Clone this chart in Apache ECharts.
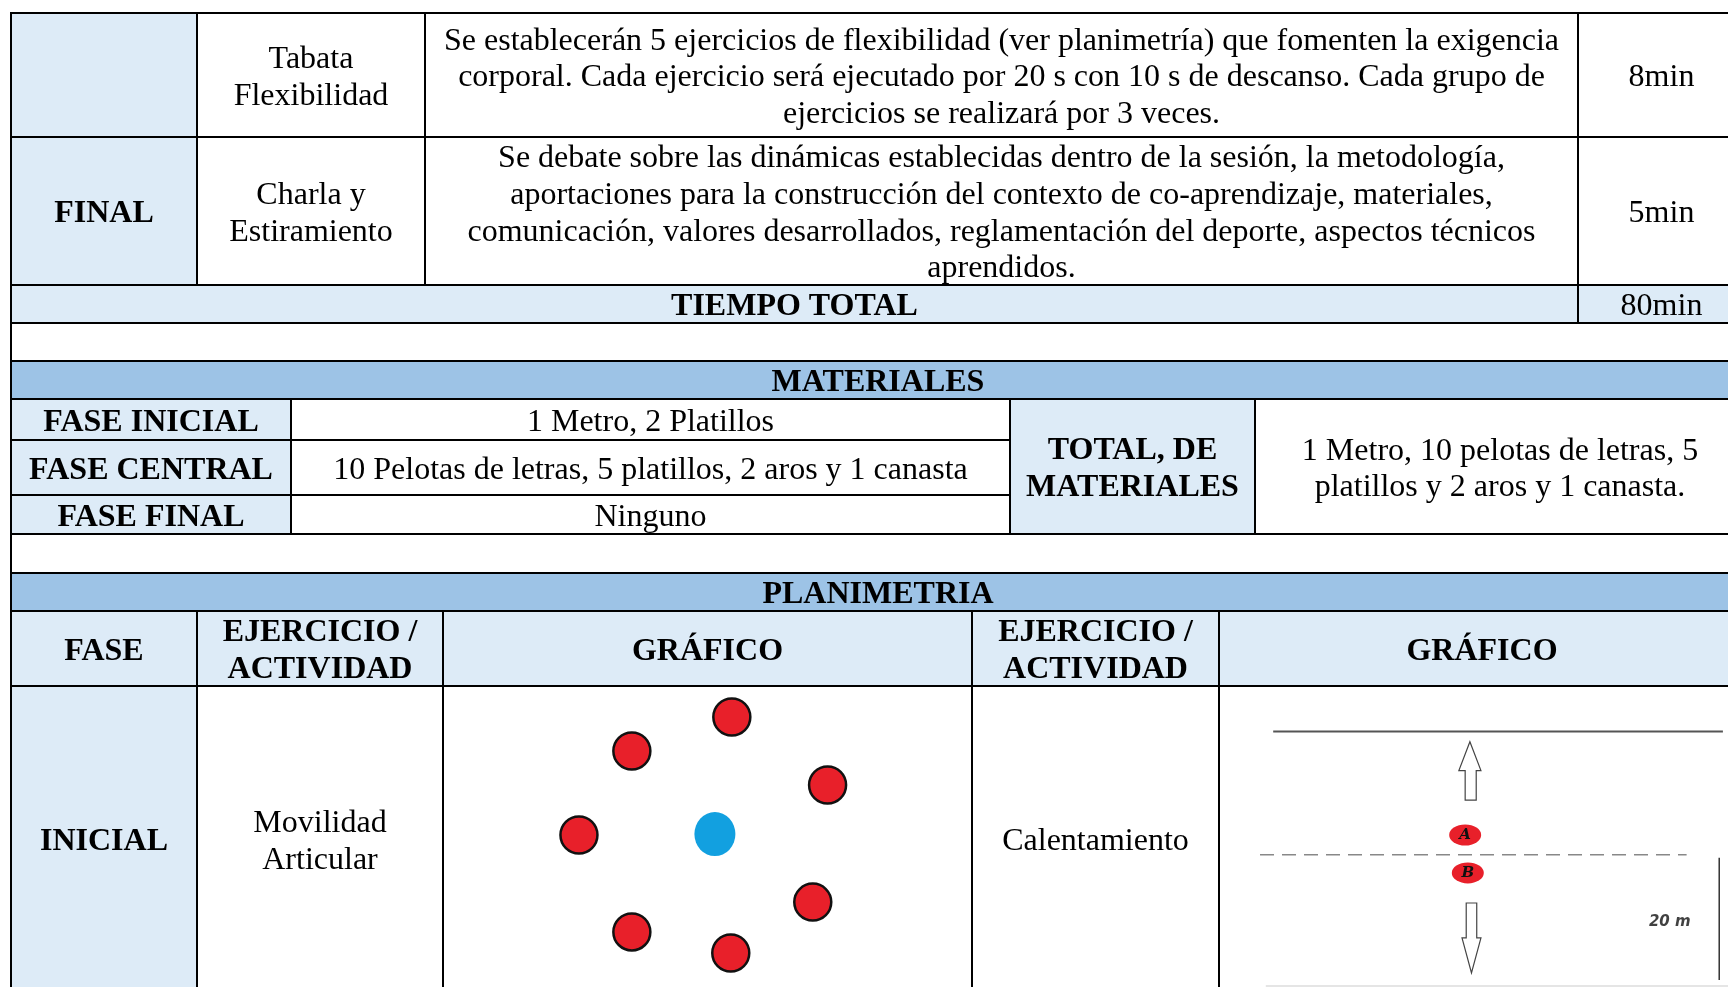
<!DOCTYPE html>
<html><head><meta charset="utf-8">
<script src="https://cdn.jsdelivr.net/npm/echarts@6/dist/echarts.min.js"></script>
<style>html,body{margin:0;padding:0;background:#fff}#c{width:1728px;height:987px}</style>
</head><body><div id="c"></div>
<script>
// ---------- content ----------
const sessionPhases = ['', 'FINAL'];
const sessionActivities = ['Tabata\nFlexibilidad', 'Charla y\nEstiramiento'];
const sessionDescriptions = [
  'Se establecerán 5 ejercicios de flexibilidad (ver planimetría) que fomenten la exigencia\ncorporal. Cada ejercicio será ejecutado por 20 s con 10 s de descanso. Cada grupo de\nejercicios se realizará por 3 veces.',
  'Se debate sobre las dinámicas establecidas dentro de la sesión, la metodología,\naportaciones para la construcción del contexto de co-aprendizaje, materiales,\ncomunicación, valores desarrollados, reglamentación del deporte, aspectos técnicos\naprendidos.'
];
const sessionMinutes = [8, 5];
const totalLabel = 'TIEMPO TOTAL';
const totalMinutes = 80;
const materialsTitle = 'MATERIALES';
const materialPhases = ['FASE INICIAL', 'FASE CENTRAL', 'FASE FINAL'];
const materialItems = ['1 Metro, 2 Platillos', '10 Pelotas de letras, 5 platillos, 2 aros y 1 canasta', 'Ninguno'];
const materialsTotalLabel = 'TOTAL, DE\nMATERIALES';
const materialsTotal = '1 Metro, 10 pelotas de letras, 5\nplatillos y 2 aros y 1 canasta.';
const planTitle = 'PLANIMETRIA';
const planHeaders = ['FASE', 'EJERCICIO /\nACTIVIDAD', 'GRÁFICO', 'EJERCICIO /\nACTIVIDAD', 'GRÁFICO'];
const planPhases = ['INICIAL'];
const planActivities = ['Movilidad\nArticular', 'Calentamiento'];

// drawing 1 (Movilidad articular): positions in the cell, 0-100
const ringX = [54.6, 35.7, 72.7, 25.7, 69.9, 35.7, 54.4];
const ringY = [89.7, 78.4, 67.1, 50.5, 28.2, 18.3, 11.3];
const centerPlayer = [51.4, 50.8];

// drawing 2 (Calentamiento): positions in the cell, 0-100 (y from top)
const endLine = [[10.3, 15.1], [95.8, 15.1]];
const midLine = [[7.8, 56.1], [88.9, 56.1]];
const sideLine = [[95.1, 57.1], [95.1, 97.7]];
const bottomLine = [[8.9, 99.7], [100, 99.7]];
const arrowUp = [[46.8, 37.9], [46.8, 28.1], [45.6, 28.1], [47.7, 18.5], [49.8, 28.1], [48.9, 28.1], [48.9, 37.9]];
const arrowDown = [[47.0, 72.1], [47.0, 83.7], [46.2, 83.7], [48.0, 95.3], [49.8, 83.7], [49.0, 83.7], [49.0, 72.1]];
const players = [['A', 46.8, 49.5], ['B', 47.3, 62.1]];
const distanceLabel = ['20 m', 85.7, 78.4];

// ---------- table layout (px) ----------
const L = 11, R = 1745;
const LB = '#DDEBF7', MB = '#9DC3E6', W = '#FFFFFF';
const F = '"Liberation Serif", "Times New Roman", serif';
const cells = [];
function cell(x1, y1, x2, y2, text, bold, fill) { cells.push({x1, y1, x2, y2, text: text || '', bold: !!bold, fill}); }

// session rows
const sCols = [L, 197, 425, 1578, R];
const sRows = [13, 137, 285];
for (let i = 0; i < 2; i++) {
  cell(sCols[0], sRows[i], sCols[1], sRows[i + 1], sessionPhases[i], true, LB);
  cell(sCols[1], sRows[i], sCols[2], sRows[i + 1], sessionActivities[i], false, W);
  cell(sCols[2], sRows[i], sCols[3], sRows[i + 1], sessionDescriptions[i], false, W);
  cell(sCols[3], sRows[i], sCols[4], sRows[i + 1], sessionMinutes[i] + 'min', false, W);
}
cell(L, 285, 1578, 323, totalLabel, true, LB);
cell(1578, 285, R, 323, totalMinutes + 'min', false, LB);
cell(L, 323, R, 361, '', false, W);
// materials
cell(L, 361, R, 399, materialsTitle, true, MB);
const mRows = [399, 440, 495, 534];
for (let i = 0; i < 3; i++) {
  cell(L, mRows[i], 291, mRows[i + 1], materialPhases[i], true, LB);
  cell(291, mRows[i], 1010, mRows[i + 1], materialItems[i], false, W);
}
cell(1010, 399, 1255, 534, materialsTotalLabel, true, LB);
cell(1255, 399, R, 534, materialsTotal, false, W);
cell(L, 534, R, 573, '', false, W);
// planimetria
cell(L, 573, R, 611, planTitle, true, MB);
const pCols = [L, 197, 443, 972, 1219, R];
for (let i = 0; i < 5; i++) cell(pCols[i], 611, pCols[i + 1], 686, planHeaders[i], true, LB);
cell(pCols[0], 686, pCols[1], 992, planPhases[0], true, LB);
cell(pCols[1], 686, pCols[2], 992, planActivities[0], false, W);
cell(pCols[2], 686, pCols[3], 992, '', false, W);
cell(pCols[3], 686, pCols[4], 992, planActivities[1], false, W);
cell(pCols[4], 686, pCols[5], 992, '', false, W);

const cellData = cells.map(c => [c.x1, c.y1, c.x2, c.y2]);

function cellRender(withBorder) {
  return function (params, api) {
    const c = cells[params.dataIndex];
    const p1 = api.coord([api.value(0), api.value(1)]);
    const p2 = api.coord([api.value(2), api.value(3)]);
    const shape = {x: p1[0], y: p1[1], width: p2[0] - p1[0], height: p2[1] - p1[1]};
    if (withBorder) {
      return {type: 'rect', shape, style: {fill: 'none', stroke: '#000', lineWidth: 2}};
    }
    return {
      type: 'rect', shape, style: {fill: c.fill},
      textContent: {style: {text: c.text, fill: '#000', font: (c.bold ? 'bold ' : '') + '32px ' + F, align: 'center', verticalAlign: 'middle', lineHeight: 36.7}},
      textConfig: {position: 'inside', offset: [0, 3]}
    };
  };
}

function polyRender(points) {
  return function (params, api) {
    return {type: 'polygon', shape: {points: points.map(p => api.coord(p))}, style: {fill: '#fff', stroke: '#444', lineWidth: 1.2}};
  };
}

// drawing-2 cell is 526px wide but only 509px are inside the page
const d2Max = 100 * (1728 - 1219) / 526;

const hidden = {show: false};
const chart = echarts.init(document.getElementById('c'), null, {renderer: 'canvas'});
chart.setOption({
  animation: false,
  backgroundColor: '#fff',
  grid: [
    {left: 0, top: 0, right: 0, bottom: 0},
    {left: 443, top: 686, width: 529, height: 301},
    {left: 1219, top: 686, right: 0, height: 301}
  ],
  xAxis: [
    {type: 'value', gridIndex: 0, min: 0, max: 1728, ...hidden},
    {type: 'value', gridIndex: 1, min: 0, max: 100, ...hidden},
    {type: 'value', gridIndex: 2, min: 0, max: d2Max, ...hidden}
  ],
  yAxis: [
    {type: 'value', gridIndex: 0, min: 0, max: 987, inverse: true, ...hidden},
    {type: 'value', gridIndex: 1, min: 0, max: 100, ...hidden},
    {type: 'value', gridIndex: 2, min: 0, max: 100, inverse: true, ...hidden}
  ],
  series: [
    {type: 'custom', xAxisIndex: 0, yAxisIndex: 0, clip: false, z: 1, data: cellData, renderItem: cellRender(false)},
    {type: 'custom', xAxisIndex: 0, yAxisIndex: 0, clip: false, z: 2, data: cellData, renderItem: cellRender(true)},
    // drawing 1
    {type: 'scatter', xAxisIndex: 1, yAxisIndex: 1, z: 5, symbol: 'circle', symbolSize: 37,
      itemStyle: {color: '#E8202A', borderColor: '#111', borderWidth: 2.5, opacity: 1},
      data: ringX.map((x, i) => [x, ringY[i]])},
    {type: 'scatter', xAxisIndex: 1, yAxisIndex: 1, z: 5, symbol: 'circle', symbolSize: [41, 44],
      itemStyle: {color: '#12A0E0', opacity: 1}, data: [centerPlayer]},
    // drawing 2
    {type: 'line', xAxisIndex: 2, yAxisIndex: 2, z: 5, symbol: 'none', clip: false, data: endLine, lineStyle: {color: '#555', width: 2}},
    {type: 'line', xAxisIndex: 2, yAxisIndex: 2, z: 5, symbol: 'none', clip: false, data: midLine, lineStyle: {color: '#888', width: 1.5, type: [14, 8]}},
    {type: 'line', xAxisIndex: 2, yAxisIndex: 2, z: 5, symbol: 'none', clip: false, data: sideLine, lineStyle: {color: '#333', width: 1.5}},
    {type: 'line', xAxisIndex: 2, yAxisIndex: 2, z: 5, symbol: 'none', clip: false, data: bottomLine, lineStyle: {color: '#ddd', width: 1.5}},
    {type: 'custom', xAxisIndex: 2, yAxisIndex: 2, z: 5, clip: false, data: [[0, 0]], renderItem: polyRender(arrowUp)},
    {type: 'custom', xAxisIndex: 2, yAxisIndex: 2, z: 5, clip: false, data: [[0, 0]], renderItem: polyRender(arrowDown)},
    {type: 'scatter', xAxisIndex: 2, yAxisIndex: 2, z: 6, symbol: 'circle', symbolSize: [32, 21],
      itemStyle: {color: '#E8202A', opacity: 1},
      label: {show: true, position: 'inside', formatter: p => p.data[2], color: '#111', fontFamily: 'DejaVu Serif', fontStyle: 'italic', fontWeight: 'bold', fontSize: 15},
      data: players.map(p => [p[1], p[2], p[0]])},
    {type: 'scatter', xAxisIndex: 2, yAxisIndex: 2, z: 6, symbolSize: 0,
      label: {show: true, position: 'inside', formatter: distanceLabel[0], color: '#111', fontFamily: 'DejaVu Sans', fontStyle: 'italic', fontWeight: 'bold', fontSize: 15},
      data: [[distanceLabel[1], distanceLabel[2]]]}
  ]
});
</script>
</body></html>
